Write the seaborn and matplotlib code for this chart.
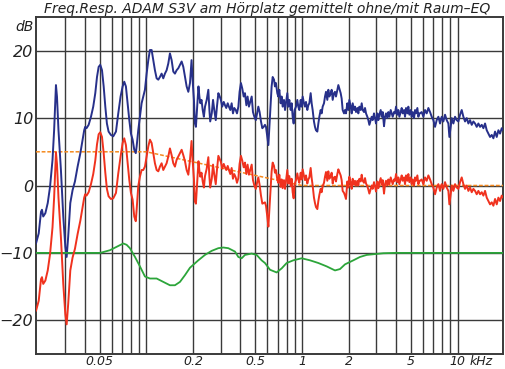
import numpy as np
import pandas as pd
import seaborn as sns
import matplotlib.pyplot as plt
from matplotlib.ticker import FixedLocator, FixedFormatter, NullFormatter

# frequency response, split in bands (Hz / dB)
freq_low = [19.5, 20.3, 21.0, 21.3, 21.7, 22.4, 23.2, 24.0, 24.9, 25.5, 25.9, 26.2, 26.6, 27.2,
            28.2, 29.2, 30.1, 30.7, 31.4, 32.4, 33.5, 34.7, 36.1, 37.6, 38.9, 39.8, 40.4, 41.2,
            42.5, 44.0, 45.5, 46.9, 48.1, 49.3, 50.5, 51.8, 53.1, 54.4, 55.7, 57.1, 59.1]
blue_low = [-8.6, -7.1, -3.9, -3.6, -4.6, -4.1, -2.6, -0.2, 3.8, 8.2, 12.2, 14.9, 13.2, 8.2,
            2.3, -4.6, -9.1, -10.6, -7.6, -2.6, -0.7, 0.6, 2.8, 4.8, 6.8, 8.2, 8.7, 8.5,
            9.0, 10.2, 11.7, 13.7, 16.1, 17.6, 17.9, 17.1, 14.7, 11.7, 9.2, 8.0, 7.5]
red_low = [-18.6, -17.1, -13.9, -13.6, -14.6, -14.1, -12.6, -10.2, -6.2, -1.8, 2.2, 4.9, 3.2, -1.8,
           -7.7, -14.6, -19.1, -20.6, -17.6, -12.6, -10.7, -9.4, -7.2, -5.2, -3.2, -1.8, -1.3, -1.5,
           -1.0, 0.2, 1.7, 3.7, 6.1, 7.6, 7.9, 7.2, 4.8, 1.9, -0.5, -1.6, -2.0]

freq_bass = [61.2, 63.7, 65.9, 68.2, 70.3, 72.0, 73.8, 75.7, 77.6, 79.5, 81.5, 83.5, 85.4, 86.5,
             88.6, 90.8, 93.1, 95.4, 97.8, 100.3, 102.8, 105.3, 108.0, 110.7, 113.4, 116.3, 119.2,
             122.1, 125.2, 128.3, 131.5, 134.8, 138.2, 141.6, 145.2, 148.8, 152.5, 156.3, 160.3,
             164.3, 168.4, 172.6, 176.9, 181.3, 185.9, 190.5]
blue_bass = [7.3, 8.0, 10.7, 13.2, 14.7, 15.4, 14.7, 12.2, 9.7, 7.7, 6.8, 5.3, 4.8, 5.8,
             8.2, 10.2, 12.2, 13.2, 14.2, 16.6, 18.6, 20.1, 20.1, 18.6, 17.1, 15.9, 15.7,
             16.1, 16.6, 15.9, 16.6, 17.1, 18.1, 19.6, 18.6, 16.9, 16.6, 17.1, 17.4,
             17.9, 18.4, 17.6, 16.1, 14.7, 13.9, 15.2]
red_bass = [-1.9, -1.1, 1.8, 4.3, 6.3, 7.0, 6.0, 3.3, 0.8, -1.1, -2.1, -4.6, -5.3, -3.6,
            -0.1, 1.3, 2.3, 2.3, 2.8, 4.3, 5.8, 6.8, 6.3, 4.8, 3.3, 2.3, 2.1,
            2.8, 3.3, 2.3, 2.8, 3.3, 4.3, 5.5, 4.5, 3.3, 2.8, 3.8, 4.3,
            4.8, 5.3, 4.5, 3.6, 2.3, 1.6, 3.8]

freq_mid = [195, 198, 202, 205, 208, 212, 216, 219, 222, 226, 230, 234, 238, 244, 250, 254, 257,
            263, 268, 273, 279, 284, 290, 296, 301, 307, 314, 320, 326, 333, 339, 346, 353, 360,
            367, 375, 382, 390, 397, 405, 413, 422, 430, 439, 447, 456, 465, 475, 484, 494, 505,
            514, 524, 534, 545, 556, 567, 578]
blue_mid = [18.6, 15.7, 12.7, 9.2, 8.7, 11.7, 14.7, 13.2, 12.2, 12.7, 11.2, 10.2, 11.7, 12.7,
            14.2, 11.2, 9.5, 10.7, 12.7, 11.2, 9.7, 11.7, 13.7, 13.2, 12.7, 11.7, 12.4, 11.9,
            11.5, 12.2, 11.7, 11.2, 12.2, 10.7, 11.5, 11.2, 10.7, 11.7, 13.9, 15.2, 14.4, 13.2,
            13.7, 11.9, 13.2, 11.7, 12.4, 13.2, 10.9, 10.2, 9.7, 10.7, 11.7, 10.9, 9.5, 8.5, 8.7, 9.0]
red_mid = [6.6, 3.8, 1.0, -2.4, -2.7, 0.4, 3.6, 2.2, 1.3, 1.9, 0.6, -0.3, 1.4, 2.5,
           4.2, 1.3, -0.3, 1.0, 3.1, 1.6, 0.2, 2.3, 4.4, 3.9, 3.5, 2.5, 3.2, 2.7,
           2.3, 2.9, 2.3, 1.7, 2.6, 1.0, 1.7, 1.2, 0.4, 1.1, 3.2, 4.4, 3.7, 2.7,
           3.4, 1.7, 3.1, 1.6, 2.3, 3.1, 0.8, 0.0, -0.5, 0.4, 1.2, 0.1, -1.5, -2.7, -2.6, -2.5]

freq_upper = [587, 599, 608, 617, 629, 638, 648, 661, 670, 680, 694, 704, 715, 729, 740, 751, 766,
              778, 789, 805, 817, 829, 846, 858, 871, 884, 897, 915, 933, 947, 961, 981, 995, 1010,
              1030, 1045, 1061, 1082, 1098, 1115, 1137, 1154, 1171, 1194, 1212, 1230, 1255, 1274,
              1293, 1318, 1338, 1358, 1385, 1406, 1427, 1455, 1477, 1499, 1529, 1552, 1575, 1606,
              1630, 1654, 1687, 1713, 1738, 1773, 1799, 1826, 1863, 1890]
blue_upper = [8.7, 7.2, 6.0, 8.7, 12.2, 14.7, 16.1, 15.7, 14.7, 15.2, 13.7, 13.2, 14.2, 12.2, 13.2,
              11.7, 12.7, 11.2, 12.2, 13.7, 11.7, 12.7, 11.2, 12.2, 10.2, 9.2, 11.2, 11.7, 12.7,
              11.7, 11.2, 12.7, 11.7, 13.2, 12.2, 11.7, 12.4, 11.2, 11.9, 12.2, 13.7, 12.2, 11.2,
              9.5, 8.7, 8.2, 8.0, 9.2, 10.2, 11.2, 10.7, 11.7, 12.2, 13.2, 13.9, 12.7, 14.2, 13.2,
              13.7, 14.2, 12.7, 13.7, 13.9, 13.2, 14.2, 14.9, 14.4, 13.7, 12.9, 11.2, 10.7, 11.2]
red_upper = [-3.0, -4.7, -6.1, -3.6, -0.4, 2.1, 3.4, 2.9, 1.9, 2.3, 0.9, 0.4, 1.6, -0.2, 0.9,
             -0.4, 0.8, -0.5, 0.6, 2.3, 0.3, 1.4, -0.1, 1.0, -1.0, -1.9, 0.2, 0.8, 1.8,
             0.9, 0.4, 1.9, 0.9, 2.4, 1.4, 0.8, 1.5, 0.3, 0.9, 1.2, 2.6, 1.1, 0.0,
             -1.8, -2.6, -3.2, -3.5, -2.3, -1.4, -0.5, -1.0, -0.1, 0.4, 1.3, 2.0, 0.7, 2.1, 1.0,
             1.4, 1.9, 0.3, 1.2, 1.3, 0.6, 1.7, 2.4, 2.0, 1.5, 0.8, -0.8, -1.1, -1.5]

freq_treble = [1918, 1957, 1986, 2016, 2056, 2087, 2118, 2160, 2192, 2225, 2269, 2303, 2338, 2384,
               2420, 2456, 2505, 2542, 2580, 2631, 2671, 2711, 2765, 2806, 2848, 2904, 2948, 2992,
               3051, 3097, 3143, 3206, 3254, 3303, 3368, 3418, 3469, 3538, 3591, 3645, 3718, 3773,
               3830, 3906, 3964, 4023, 4103, 4165, 4227, 4311, 4375, 4441, 4529, 4596, 4665, 4758,
               4829, 4901, 4999, 5074, 5150, 5252, 5330, 5409, 5517, 5600, 5684]
blue_treble = [10.7, 12.2, 11.2, 12.7, 11.7, 10.7, 12.2, 11.2, 11.7, 10.9, 11.5, 10.7, 11.7, 11.2,
               12.2, 11.2, 10.9, 11.5, 10.7, 10.2, 9.7, 9.0, 9.7, 10.2, 9.7, 10.7, 10.0, 9.2,
               10.7, 9.7, 10.5, 11.2, 10.2, 10.9, 8.8, 10.2, 10.7, 10.0, 10.9, 10.2, 11.2, 10.7,
               10.2, 10.9, 10.7, 11.7, 10.5, 11.2, 10.2, 10.9, 11.5, 10.7, 11.2, 10.2, 11.5, 10.7,
               11.7, 10.5, 11.2, 10.2, 10.9, 10.0, 11.2, 10.7, 11.5, 10.2, 10.7]
red_treble = [-2.0, 0.6, -0.3, 1.3, 0.4, -0.5, 1.0, 0.1, 0.7, 0.0, 0.7, 0.0, 1.0, 0.6,
              1.6, 0.7, 0.4, 1.1, 0.3, -0.1, -0.6, -1.2, -0.5, 0.0, -0.5, 0.5, -0.1, -0.9,
              0.6, -0.4, 0.4, 1.1, 0.1, 0.8, -1.2, 0.2, 0.7, 0.0, 0.9, 0.2, 1.2, 0.7,
              0.2, 0.9, 0.7, 1.7, 0.5, 1.2, 0.2, 0.9, 1.5, 0.7, 1.2, 0.2, 1.5, 0.7,
              1.7, 0.5, 1.2, 0.2, 0.9, 0.0, 1.2, 0.7, 1.5, 0.2, 0.7]

freq_air = [5740, 5883, 6030, 6180, 6335, 6494, 6656, 6822, 6993, 7167, 7346, 7530, 7718, 7911,
            8108, 8311, 8519, 8732, 8862, 9039, 9174, 9403, 9637, 9878, 10125, 10378, 10638,
            10904, 11175, 11455, 11742, 12035, 12336, 12644, 12959, 13283, 13616, 13955, 14305,
            14661, 15027, 15403, 15788, 16182, 16588, 17001, 17425, 17861, 18308, 18765, 19235, 19600]
blue_air = [10.7, 10.9, 10.2, 11.2, 10.7, 11.5, 10.9, 10.2, 9.7, 8.7, 9.7, 10.2, 9.2, 10.2,
            9.5, 10.5, 9.7, 9.2, 7.2, 8.7, 10.0, 9.2, 10.2, 9.7, 9.5, 10.5, 11.2,
            10.2, 9.5, 10.0, 9.2, 9.7, 9.0, 9.5, 9.2, 8.7, 9.2, 8.7, 9.0,
            8.5, 9.2, 8.2, 7.7, 7.2, 7.5, 7.0, 8.0, 7.2, 8.2, 7.7, 8.5, 8.2]
red_air = [0.7, 0.9, 0.2, 1.2, 0.7, 1.5, 0.9, 0.2, -0.3, -1.3, -0.3, 0.2, -0.8, 0.2,
           -0.5, 0.5, -0.3, -0.8, -2.8, -1.3, 0.0, -0.8, 0.2, -0.3, -0.5, 0.5, 1.2,
           0.2, -0.5, 0.0, -0.8, -0.3, -1.0, -0.5, -0.8, -1.3, -0.8, -1.3, -1.0,
           -1.5, -0.8, -1.8, -2.3, -2.8, -2.5, -3.0, -2.0, -2.8, -1.8, -2.3, -1.5, -1.8]

# room EQ correction curve
eq_freq = [19.5, 50.2, 52.3, 58.3, 64.3, 71.0, 74.6, 78.3, 84.4, 90.8, 97.8, 105.3, 116.3, 128.3,
           141.6, 152.5, 164.3, 176.9, 190.5, 215.5, 237.8, 262.5, 289.8, 312, 336, 370.8, 389.6,
           409.3, 430, 474.6, 511, 550, 578, 623, 687, 740, 797, 880, 995, 1126, 1274, 1441,
           1630, 1755, 1890, 2139, 2361, 2606, 2876, 3335, 4000, 19600]
eq_db = [-10.0, -10.0, -9.9, -9.6, -9.1, -8.6, -8.8, -9.3, -10.6, -12.0, -13.5, -13.8, -13.8, -14.3,
         -14.8, -14.8, -14.3, -13.3, -12.2, -11.1, -10.3, -9.7, -9.3, -9.2, -9.3, -9.8, -10.6,
         -10.8, -10.3, -10.1, -10.3, -11.1, -11.5, -12.5, -12.9, -12.3, -11.5, -11.1, -10.8, -11.1,
         -11.5, -12.0, -12.6, -12.4, -11.7, -11.1, -10.6, -10.3, -10.2, -10.05, -10.0, -10.0]

# target curve
target_freq = [19.5, 100, 1000, 19600]
target_db = [5, 5, 0, 0]

x_major = [50, 200, 500, 1000, 2000, 5000, 10000]
x_labels = ['0.05', '0.2', '0.5', '1', '2', '5', '10']
x_minor = [30, 40, 60, 70, 80, 90, 100, 300, 400, 600, 700, 800, 900,
           3000, 4000, 6000, 7000, 8000, 9000]
y_ticks = [-20, -10, 0, 10, 20]
y_labels = ['\u221220', '\u221210', '0', '10', '20']

freq = np.array(freq_low + freq_bass + freq_mid + freq_upper + freq_treble + freq_air)
blue = np.array(blue_low + blue_bass + blue_mid + blue_upper + blue_treble + blue_air)
red = np.array(red_low + red_bass + red_mid + red_upper + red_treble + red_air)

sns.set_theme(style="white")
plt.rcParams['font.family'] = ['DejaVu Sans']

fig = plt.figure(figsize=(5.05, 3.69), dpi=100)
ax = fig.add_axes([36/505, 15/369, 467/505, 337/369])
ax.set_xscale('log')

sns.lineplot(x=target_freq, y=target_db, ax=ax, color='#f58a1f', lw=1.1,
             linestyle=(0, (2.5, 1.2)), sort=False, estimator=None, zorder=3)
sns.lineplot(x=freq, y=blue, ax=ax, color='#27308a', lw=1.4, sort=False, estimator=None, zorder=4)
sns.lineplot(x=freq, y=red, ax=ax, color='#f0321e', lw=1.4, sort=False, estimator=None, zorder=5)
sns.lineplot(x=eq_freq, y=eq_db, ax=ax, color='#2ca53a', lw=1.3, sort=False, estimator=None, zorder=4)

ax.set_xlim(19.5, 19600)
ax.set_ylim(-25, 25)
ax.xaxis.set_major_locator(FixedLocator(x_major))
ax.xaxis.set_major_formatter(FixedFormatter(x_labels))
ax.xaxis.set_minor_locator(FixedLocator(x_minor))
ax.xaxis.set_minor_formatter(NullFormatter())
ax.set_yticks(y_ticks)
ax.set_yticklabels(y_labels)
ax.grid(which='both', color='#3a3a3a', lw=1.0)
ax.set_axisbelow(True)
ax.tick_params(which='both', length=0)
ax.tick_params(axis='x', pad=0.5, labelsize=9)
ax.tick_params(axis='y', pad=2, labelsize=11.5)
for lab in ax.get_xticklabels() + ax.get_yticklabels():
    lab.set_style('italic')
    lab.set_color('#222222')
for sp in ax.spines.values():
    sp.set_color('#3a3a3a')
    sp.set_linewidth(1.4)
ax.set_xlabel('')
ax.set_ylabel('')

fig.text(470/505, 1 - 355/369, 'kHz', fontsize=9, style='italic', color='#222222', va='top', ha='left')
fig.text(34/505, 1 - 31/369, 'dB', fontsize=10, style='italic', color='#222222', ha='right', va='baseline')
fig.text(267/505, 1 - 12.5/369, 'Freq.Resp. ADAM S3V am H\u00f6rplatz gemittelt ohne/mit Raum\u2013EQ',
         fontsize=10, style='italic', color='#222222', ha='center', va='baseline')

fig.savefig('out.png', dpi=100)
